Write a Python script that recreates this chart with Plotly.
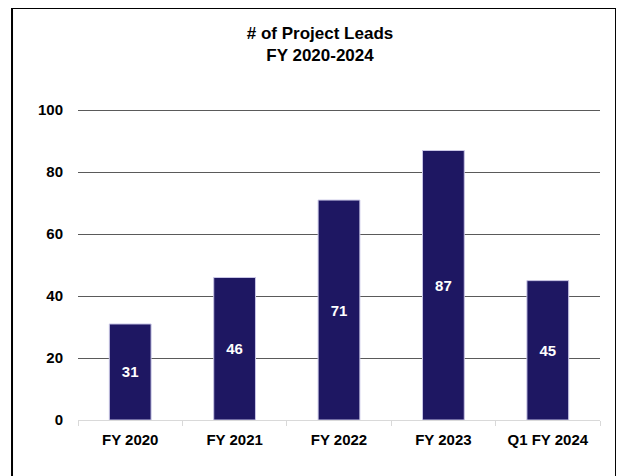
import plotly.graph_objects as go

categories = ["FY 2020", "FY 2021", "FY 2022", "FY 2023", "Q1 FY 2024"]
leads = [31, 46, 71, 87, 45]
y_ticks = [0, 20, 40, 60, 80, 100]

FONT = "Liberation Sans Narrow, Arial Narrow, Liberation Sans, Arial, sans-serif"

fig = go.Figure(
    go.Bar(
        x=categories,
        y=leads,
        text=[str(v) for v in leads],
        textposition="inside",
        insidetextanchor="middle",
        textfont=dict(color="white", size=15, family=FONT, weight="bold"),
        marker=dict(color="#1e1762", line=dict(color="#c9c6e6", width=1)),
        width=0.4,
    )
)

fig.update_layout(
    width=624,
    height=476,
    margin=dict(l=70, r=32, t=101, b=64, autoexpand=False),
    paper_bgcolor="white",
    plot_bgcolor="white",
    showlegend=False,
    title=dict(
        text="<b># of Project Leads<br>FY 2020-2024</b>",
        x=0.5,
        xref="container",
        xanchor="center",
        y=0.935,
        yref="container",
        yanchor="top",
        font=dict(family=FONT, size=17, color="black"),
    ),
    font=dict(family=FONT, color="black"),
    shapes=[
        dict(
            type="rect", xref="paper", yref="paper",
            x0=-0.1264, x1=1.0307, y0=-0.3, y1=1.3248,
            line=dict(color="black", width=2), fillcolor="rgba(0,0,0,0)",
            layer="below",
        )
    ],
)

fig.update_yaxes(
    range=[0, 100.4],
    tickvals=y_ticks,
    showgrid=True,
    gridcolor="#5a5a5a",
    gridwidth=1,
    zeroline=False,
    showline=False,
    tickfont=dict(family=FONT, size=15, color="black", weight="bold"),
    ticklabelstandoff=14,
)
fig.update_xaxes(
    showline=True,
    linecolor="#d9d9d9",
    linewidth=1,
    ticks="outside",
    tickson="boundaries",
    tickcolor="#d9d9d9",
    ticklen=5,
    tickfont=dict(family=FONT, size=15, color="black", weight="bold"),
    ticklabelstandoff=6,
)

fig.write_html("out.html")
